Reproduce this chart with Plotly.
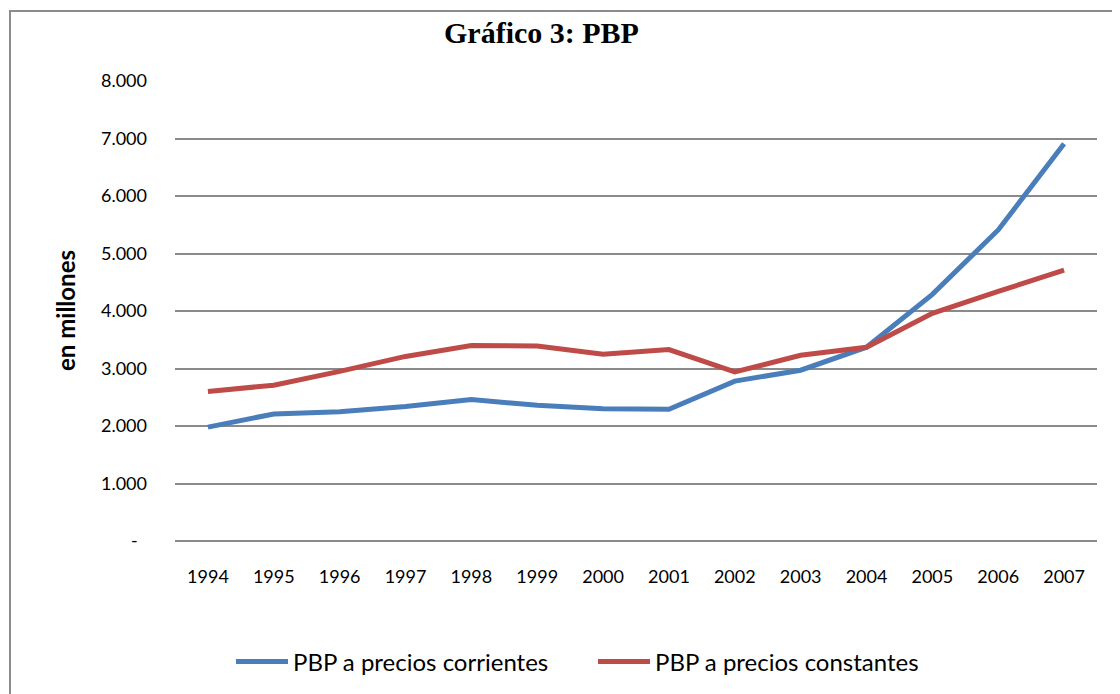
import plotly.graph_objects as go

years = ["1994", "1995", "1996", "1997", "1998", "1999", "2000",
         "2001", "2002", "2003", "2004", "2005", "2006", "2007"]
corrientes = [1980, 2210, 2250, 2340, 2460, 2360, 2300, 2290, 2780, 2970, 3370, 4290, 5410, 6910]
constantes = [2600, 2710, 2950, 3210, 3400, 3390, 3250, 3330, 2940, 3230, 3370, 3960, 4340, 4710]
ytick_vals = [0, 1000, 2000, 3000, 4000, 5000, 6000, 7000, 8000]
ytick_text = ["-\u00a0\u00a0", "1.000", "2.000", "3.000", "4.000", "5.000", "6.000", "7.000", "8.000"]

FONT = "Lato"
OFF = 8  # page body margin

fig = go.Figure()
fig.add_trace(go.Scatter(x=years, y=corrientes, mode="lines", name="PBP a precios corrientes",
                         line=dict(color="#4a7ebb", width=5)))
fig.add_trace(go.Scatter(x=years, y=constantes, mode="lines", name="PBP a precios constantes",
                         line=dict(color="#be4b48", width=5)))

W, H = 1120, 694
L, T = 175 - OFF, 81 - OFF
R = W - (1097 - OFF)
B = H - (541 - OFF)
pw, ph = W - L - R, H - T - B

def px_x(x):
    return (x - OFF - L) / pw

def px_y(y):
    return (H - B - (y - OFF)) / ph

fig.update_layout(
    width=W, height=H,
    margin=dict(l=L, r=R, t=T, b=B, autoexpand=False),
    paper_bgcolor="white", plot_bgcolor="white",
    font=dict(family=FONT, color="#000000", size=18),
    showlegend=True,
    legend=dict(orientation="h", x=px_x(293 - 62), xanchor="left", y=px_y(662), yanchor="middle",
                font=dict(size=24, family=FONT), entrywidth=295, entrywidthmode="pixels",
                itemwidth=52, bgcolor="rgba(0,0,0,0)"),
    xaxis=dict(type="category", range=[-0.5, 13.5], showgrid=False, showline=False, zeroline=False,
               ticks="", tickfont=dict(size=18), ticklabelstandoff=23, fixedrange=True),
    yaxis=dict(range=[0, 8000], tickvals=ytick_vals, ticktext=ytick_text,
               showgrid=True, gridcolor="#8a8a8a", gridwidth=1.5,
               zeroline=True, zerolinecolor="#8a8a8a", zerolinewidth=1.5,
               showline=False, ticks="", tickfont=dict(size=18), ticklabelstandoff=27),
    shapes=[dict(type="rect", xref="paper", yref="paper",
                 x0=px_x(10), x1=px_x(1140), y0=px_y(720), y1=px_y(11),
                 line=dict(color="#8c8c8c", width=2), fillcolor="rgba(0,0,0,0)", layer="below")],
    annotations=[
        dict(text="<b>Gráfico 3: PBP</b>", xref="paper", yref="paper",
             x=px_x(541), y=px_y(32), xanchor="center", yanchor="middle",
             showarrow=False, font=dict(family="Liberation Serif", size=30, color="#000000")),
        dict(text="<b>en millones</b>", xref="paper", yref="paper", textangle=-90,
             x=px_x(65), y=px_y(311), xanchor="center", yanchor="middle",
             showarrow=False, font=dict(family=FONT, size=24, color="#000000")),
    ],
)

fig.write_html("out.html")
